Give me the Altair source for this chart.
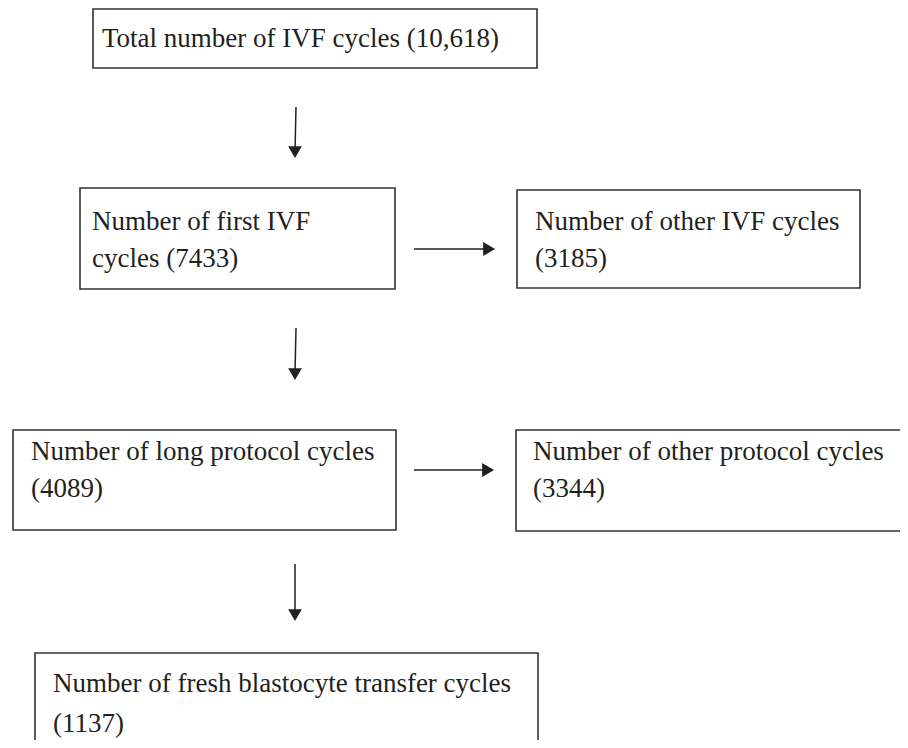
import altair as alt
import pandas as pd

# ---- content ----
stages_line1 = [
    "Total number of IVF cycles (10,618)",
    "Number of first IVF",
    "Number of other IVF cycles",
    "Number of long protocol cycles",
    "Number of other protocol cycles",
    "Number of fresh blastocyte transfer cycles",
]
stages_line2 = ["", "cycles (7433)", "(3185)", "(4089)", "(3344)", "(1137)"]

# ---- layout (page pixel coordinates) ----
box_left = [93, 80, 517, 13, 516, 35]
box_right = [537, 395, 860, 396, 930, 538]
box_top = [9, 188, 190, 430, 430, 653]
box_bottom = [68, 289, 288, 530, 531, 747]
text_left = [102, 92, 535, 31, 533, 53]
text_base1 = [47, 230, 230, 460, 460, 692]
text_base2 = [47, 267, 267, 497, 497, 732]

arrow_start_x = [296, 296, 295, 414, 414]
arrow_start_y = [107, 328, 564, 249, 470]
arrow_tip_x = [295, 295, 295, 496, 495]
arrow_tip_y = [159, 381, 622, 249, 470]
arrow_dir = ["down", "down", "down", "right", "right"]

HEAD_SIZE = 190
r = HEAD_SIZE ** 0.5 / 2

boxes = pd.DataFrame({"x0": box_left, "x1": box_right, "y0": box_top, "y1": box_bottom})

texts = pd.DataFrame({
    "x": text_left * 2,
    "y": text_base1 + text_base2,
    "t": stages_line1 + stages_line2,
})
texts = texts[texts["t"] != ""]

shafts, heads = [], []
for sx, sy, tx, ty, d in zip(arrow_start_x, arrow_start_y, arrow_tip_x, arrow_tip_y, arrow_dir):
    if d == "down":
        hx, hy = tx, ty - r
        shape = "triangle-down"
    else:
        hx, hy = tx - r, ty
        shape = "triangle-right"
    shafts.append({"x": sx, "y": sy, "x2": hx, "y2": hy})
    heads.append({"x": hx, "y": hy, "shape": shape})
shafts = pd.DataFrame(shafts)
heads = pd.DataFrame(heads)

W, H = 892, 732
xs = alt.Scale(domain=[8, 8 + W], nice=False, zero=False)
ys = alt.Scale(domain=[8, 8 + H], nice=False, zero=False, reverse=True)

X = lambda f: alt.X(f, type="quantitative", scale=xs, axis=None)
Y = lambda f: alt.Y(f, type="quantitative", scale=ys, axis=None)

ink = "#231f20"
serif = "'Liberation Serif', 'Times New Roman', Times, 'DejaVu Serif', serif"

rects = alt.Chart(boxes).mark_rect(
    fillOpacity=0, stroke="#333333", strokeWidth=1.6, clip=True
).encode(x=X("x0"), x2="x1", y=Y("y0"), y2="y1")

rules = alt.Chart(shafts).mark_rule(color=ink, strokeWidth=1.5).encode(
    x=X("x"), y=Y("y"), x2="x2", y2="y2"
)

pts = alt.Chart(heads).mark_point(filled=True, color=ink, opacity=1, size=HEAD_SIZE).encode(
    x=X("x"), y=Y("y"),
    shape=alt.Shape("shape:N", scale=None, legend=None),
)

labels = alt.Chart(texts).mark_text(
    align="left", baseline="alphabetic", font=serif, fontSize=27, color=ink
).encode(x=X("x"), y=Y("y"), text="t:N")

chart = (
    alt.layer(rects, rules, pts, labels)
    .properties(width=W, height=H, padding=0, autosize=alt.AutoSizeParams(type="none"))
    .configure_view(stroke=None)
)

chart.save("out.html", embed_options={"renderer": "svg", "actions": False})
